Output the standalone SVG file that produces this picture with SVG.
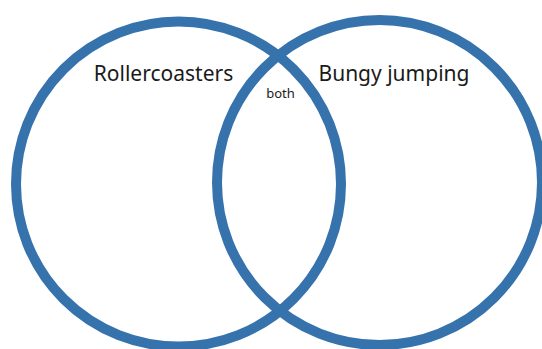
<svg xmlns="http://www.w3.org/2000/svg" width="542" height="349" viewBox="0 0 542 349">
<style>
.ring{fill:none;stroke:#3673ac;stroke-width:10}
.lbl{font-family:"Noto Sans","Open Sans",sans-serif;fill:#1a1a1a;text-anchor:middle}
</style>
<rect width="542" height="349" fill="#ffffff"/>
<g id="rollercoasters">
<circle class="ring" cx="178.5" cy="184" r="162.5"/>
<text class="lbl" x="163.5" y="81" font-size="21">Rollercoasters</text>
</g>
<g id="bungy-jumping">
<circle class="ring" cx="379.5" cy="182.5" r="162.5"/>
<text class="lbl" x="394" y="81" font-size="21">Bungy jumping</text>
</g>
<g id="both">
<text class="lbl" x="280.5" y="98" font-size="13">both</text>
</g>
<g id="connectors"/>
</svg>
